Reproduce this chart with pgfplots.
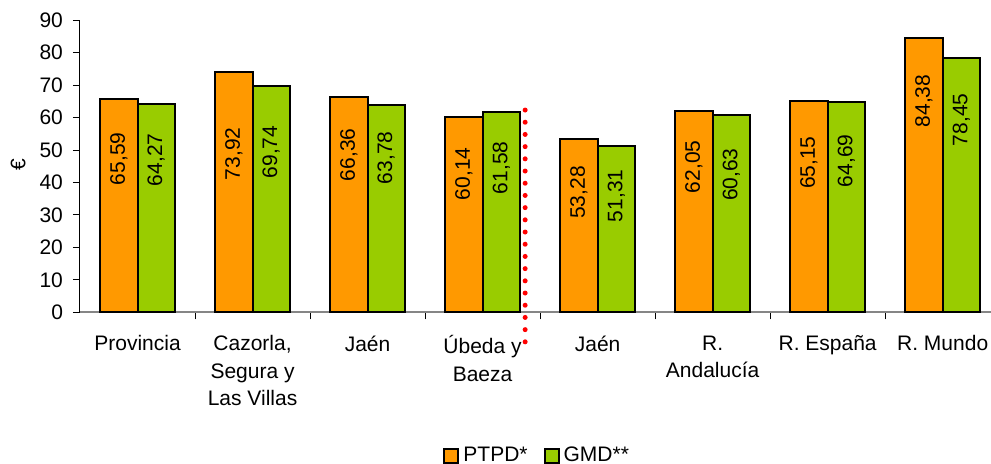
\documentclass[border=0pt]{standalone}
\usepackage{fontspec}
\setmainfont{Liberation Sans}
\usepackage{pgfplots}
\usepackage{pgfplotstable}
\pgfplotsset{compat=1.18}
\definecolor{ptpd}{HTML}{FF9900}
\definecolor{gmd}{HTML}{99CC00}
\definecolor{axgray}{HTML}{868686}

% bar heights (euros)
\pgfplotstableread{
x y
0 65.59
1 73.92
2 66.36
3 60.14
4 53.28
5 62.05
6 65.15
7 84.38
}\ptpdtab
\pgfplotstableread{
x y
0 64.27
1 69.74
2 63.78
3 61.58
4 51.31
5 60.63
6 64.69
7 78.45
}\gmdtab
% value labels: x, vertical centre, text
\pgfplotstableread{
x ly lab
-0.1625 47.3 65,59
0.1625 47.0 64,27
0.8375 48.8 73,92
1.1625 49.4 69,74
1.8375 48.5 66,36
2.1625 47.6 63,78
2.8375 42.7 60,14
3.1625 44.5 61,58
3.8375 36.9 53,28
4.1625 35.9 51,31
4.8375 44.8 62,05
5.1625 42.4 60,63
5.8375 46.1 65,15
6.1625 46.7 64,69
6.8375 65.1 84,38
7.1625 59.3 78,45
}\labtab

\newcommand{\chartfont}{\fontsize{10.5}{13.75}\selectfont}

\begin{document}
\begin{tikzpicture}
\path[use as bounding box] (-40pt,-75.75pt) rectangle (455.5pt,156.25pt);
\begin{axis}[
  scale only axis,
  width=455.5pt, height=146.25pt,
  at={(0,0)}, anchor=south west,
  clip=false,
  xmin=-0.5, xmax=7.42, ymin=0, ymax=90,
  ytick={0,10,...,90},
  xtick={0.5,1.5,...,6.5},
  xticklabels={},
  extra x ticks={0,1,...,7},
  extra x tick labels={Provincia,{Cazorla,\\Segura y\\Las Villas},Jaén,{Úbeda y\\Baeza},Jaén,{R.\\Andalucía},R. España,R. Mundo},
  extra x tick style={major tick length=0pt},
  tick align=outside, major tick length=3.5pt,
  tick style={black, line width=0.5pt},
  axis x line*=bottom, axis y line*=left,
  x axis line style={-, draw=axgray, line width=1pt},
  y axis line style={-, draw=black, line width=0.5pt},
  /pgf/number format/assume math mode=true,
  tick label style={font=\chartfont},
  yticklabel style={xshift=-1.5pt},
  xticklabel style={align=center, anchor=north, yshift=-8pt},
  ylabel={€},
  ylabel style={font=\chartfont, at={(axis description cs:-0.068,0.504)}, anchor=center},
  legend columns=2,
  legend style={at={(axis description cs:0.503,-0.49)}, anchor=center,
    draw=none, fill=none, font=\chartfont,
    /tikz/every even column/.append style={column sep=6pt}},
  legend image code/.code={\draw[#1, line width=1pt] (0pt,-3.5pt) rectangle (7pt,3.5pt);},
]
\addplot[ybar, bar width=0.325, bar shift=-0.1625, fill=ptpd, draw=black, line width=1pt]
  table[x=x, y=y]{\ptpdtab};
\addlegendentry{PTPD*}
\addplot[ybar, bar width=0.325, bar shift=0.1625, fill=gmd, draw=black, line width=1pt]
  table[x=x, y=y]{\gmdtab};
\addlegendentry{GMD**}
\addplot[draw=none, forget plot, nodes near coords, point meta=explicit symbolic,
  nodes near coords style={rotate=90, anchor=center, font=\chartfont, inner sep=0pt}]
  table[x=x, y=ly, meta=lab]{\labtab};
% red dotted divider
\addplot[red, line width=2.5pt, line cap=round, dash pattern=on 0pt off 6.1pt, forget plot]
  coordinates {(3.37,62.3) (3.37,-12.2)};
\end{axis}
\end{tikzpicture}
\end{document}
